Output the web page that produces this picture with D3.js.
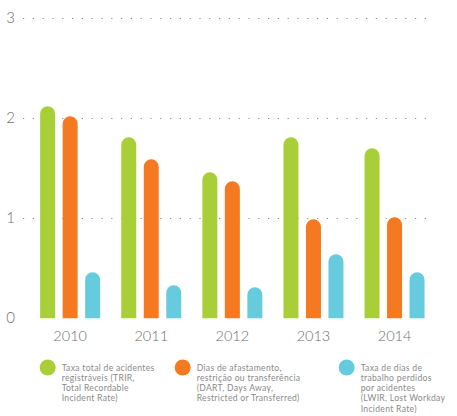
<!DOCTYPE html>
<html>
<head>
<meta charset="utf-8">
<script src="https://cdn.jsdelivr.net/npm/d3@7"></script>
<style>
  body { margin: 0; background: #fff; }
  svg { display: block; font-family: Lato, "Open Sans", sans-serif; }
</style>
</head>
<body>
<svg id="chart" width="457" height="416"></svg>
<script>
const years = ['2010', '2011', '2012', '2013', '2014'];
const seriesKeys = ['trir', 'dart', 'lwir'];
const trir = [2.12, 1.81, 1.46, 1.81, 1.70];
const dart = [2.02, 1.59, 1.37, 0.99, 1.01];
const lwir = [0.46, 0.33, 0.31, 0.64, 0.46];
const yTicks = [0, 1, 2, 3];
const legendLabels = [
  ['Taxa total de acidentes', 'registráveis (TRIR,', 'Total Recordable', 'Incident Rate)'],
  ['Dias de afastamento,', 'restrição ou transferência', '(DART, Days Away,', 'Restricted or Transferred)'],
  ['Taxa de dias de', 'trabalho perdidos', 'por acidentes', '(LWIR, Lost Workday', 'Incident Rate)']
];
const colors = ['#a9cf38', '#f47920', '#66cbdc'];

const values = { trir, dart, lwir };
const data = years.map((yr, i) => ({
  year: yr,
  bars: seriesKeys.map((k, j) => ({ key: k, value: values[k][i], color: colors[j] }))
}));

const svg = d3.select('#chart');

// scales
const y = d3.scaleLinear().domain([0, 3]).range([318.3, 18.3]);
const x0 = d3.scaleBand().domain(years).range([29.6, 435.1]).padding(0);
const x1 = d3.scaleBand().domain(seriesKeys).range([0, 60]).paddingInner(1 / 3).paddingOuter(0);
const bw = x1.bandwidth();

// dotted gridlines
svg.append('g')
  .selectAll('line')
  .data(yTicks.filter(d => d > 0))
  .enter()
  .append('line')
  .attr('x1', 23)
  .attr('x2', 434)
  .attr('y1', d => Math.round(y(d)) + 0.5)
  .attr('y2', d => Math.round(y(d)) + 0.5)
  .attr('stroke', '#8c8c8c')
  .attr('stroke-width', 1)
  .attr('stroke-dasharray', '1.2,8.6');

// y labels
svg.append('g')
  .selectAll('text')
  .data(yTicks)
  .enter()
  .append('text')
  .attr('x', 15)
  .attr('y', d => y(d) + 5)
  .attr('text-anchor', 'end')
  .style('font-size', '15px')
  .style('font-weight', 300)
  .style('fill', '#6d6d6d')
  .text(d => d);

// bars with rounded tops
const barPath = (x, top, bottom, w) => {
  const r = w / 2;
  return `M${x},${bottom}V${top + r}A${r},${r} 0 0 1 ${x + w},${top + r}V${bottom}Z`;
};

const groups = svg.append('g')
  .selectAll('g')
  .data(data)
  .enter()
  .append('g')
  .attr('transform', d => `translate(${x0(d.year) + x0.bandwidth() / 2 - 30},0)`);

groups.selectAll('path')
  .data(d => d.bars)
  .enter()
  .append('path')
  .attr('d', d => barPath(x1(d.key), y(d.value), y(0), bw))
  .attr('fill', d => d.color);

// year labels
svg.append('g')
  .selectAll('text')
  .data(years)
  .enter()
  .append('text')
  .attr('x', d => x0(d) + x0.bandwidth() / 2)
  .attr('y', 341)
  .attr('text-anchor', 'middle')
  .style('font-size', '14.5px')
  .style('font-weight', 300)
  .style('fill', '#6d6d6d')
  .text(d => d);

// legend
const legendX = [47.7, 182.7, 346.7];
const legend = svg.append('g')
  .selectAll('g')
  .data(legendLabels)
  .enter()
  .append('g')
  .attr('transform', (d, i) => `translate(${legendX[i]},0)`);

legend.append('circle')
  .attr('cx', 0)
  .attr('cy', 367.5)
  .attr('r', 8)
  .attr('fill', (d, i) => colors[i]);

legend.append('text')
  .style('font-size', '8.6px')
  .style('letter-spacing', '0.3px')
  .style('fill', '#8a8a8a')
  .selectAll('tspan')
  .data(d => d)
  .enter()
  .append('tspan')
  .attr('x', 14)
  .attr('y', (d, i) => 370.5 + i * 10.3)
  .text(d => d);
</script>
</body>
</html>
